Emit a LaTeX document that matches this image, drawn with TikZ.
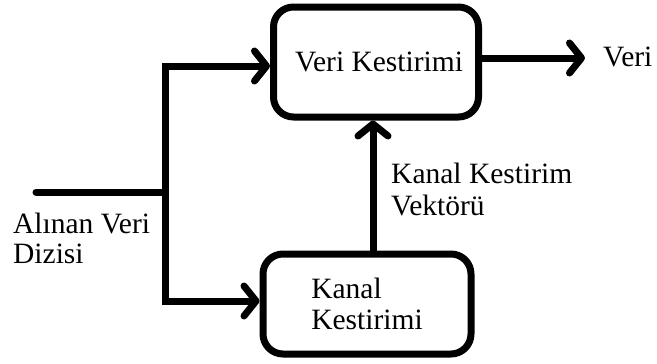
\documentclass[tikz,border=0pt]{standalone}
\usepackage{fontspec}
\setmainfont{Liberation Serif}
\usetikzlibrary{arrows.meta}
\begin{document}
\begin{tikzpicture}[x=1pt,y=-1pt,
  every node/.style={font=\fontsize{29.5}{31.5}\selectfont, inner sep=0pt},
  line/.style={line width=7pt, line join=miter},
  arr/.style={line, -{Straight Barb[length=12pt,width=30pt,line cap=round,line join=round]}},
  block/.style={draw, line width=7pt, rounded corners=20pt, align=left}]
  \useasboundingbox (0,0) rectangle (657,364);

  % processing blocks
  \node[block, minimum width=205pt, minimum height=110pt] (top) at (376,62) {\hspace{6pt}Veri Kestirimi};
  \node[block, minimum width=208pt, minimum height=100pt] (bot) at (367,304) {Kanal\\Kestirimi\hspace{6pt}};

  % helper points for the wiring
  \coordinate (in) at (36,192);
  \coordinate (j1) at (165,66);
  \coordinate (j2) at (165,301);
  \coordinate (jm) at (165,192);
  \coordinate (v) at (373,0);
  \coordinate (out) at (585,58);

  % input and branching
  \draw[line, line cap=round] (in) -- (jm);
  \draw[arr] (j2) -- (j1) -- (top.west |- j1);
  \draw[arr] (j1) -- (j2) -- (bot.west |- j2);

  % channel estimate feeds the data estimator
  \draw[arr] (bot.north -| v) -- (top.south -| v);

  % output
  \draw[arr] (top.east |- out) -- (out);

  % labels
  \node[anchor=base west] (outlbl) at (603,66) {Veri};
  \node[anchor=base west] (inlbl) at (13,233) {Alınan Veri};
  \node[anchor=base west] (inlbl2) at (13,263) {Dizisi};
  \node[anchor=base west] (vec1) at (391,183) {Kanal Kestirim};
  \node[anchor=base west] (vec2) at (391,215) {Vektörü};
\end{tikzpicture}
\end{document}
